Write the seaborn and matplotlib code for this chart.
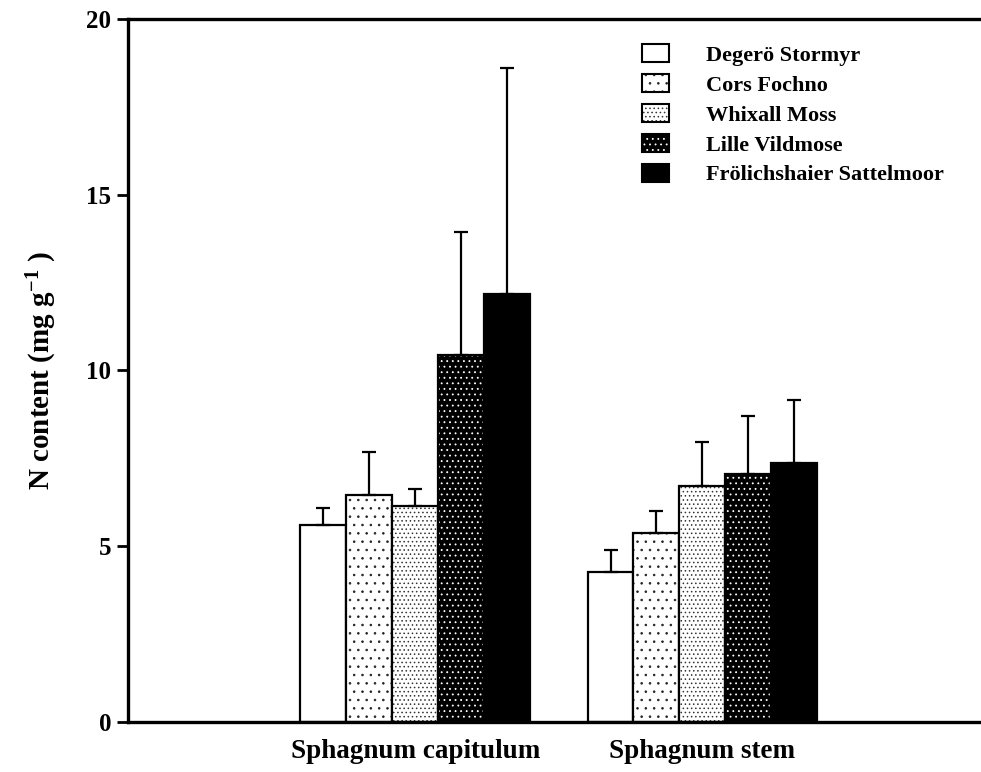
import matplotlib
matplotlib.use("Agg")
import matplotlib.pyplot as plt
import seaborn as sns
import pandas as pd
import numpy as np
from matplotlib.colors import to_rgba
from matplotlib.patches import Patch

parts = ["Sphagnum capitulum", "Sphagnum stem"]
sites = ["Degerö Stormyr", "Cors Fochno", "Whixall Moss", "Lille Vildmose", "Frölichshaier Sattelmoor"]
means_capitulum = [5.60, 6.45, 6.15, 10.45, 12.18]
errs_capitulum = [0.48, 1.23, 0.49, 3.49, 6.42]
means_stem = [4.27, 5.38, 6.71, 7.06, 7.37]
errs_stem = [0.62, 0.62, 1.26, 1.64, 1.80]
yticks = [0, 5, 10, 15, 20]

rows = []
for p, m, e in [(parts[0], means_capitulum, errs_capitulum), (parts[1], means_stem, errs_stem)]:
    for s, mv, ev in zip(sites, m, e):
        rows.append({"part": p, "site": s, "value": mv, "err": ev})
df = pd.DataFrame(rows)

sns.set_style("white")
plt.rcParams["font.family"] = ["Liberation Serif", "DejaVu Serif"]
plt.rcParams["font.weight"] = "bold"
plt.rcParams["text.color"] = "black"
plt.rcParams["axes.labelcolor"] = "black"
plt.rcParams["xtick.color"] = "black"
plt.rcParams["ytick.color"] = "black"
plt.rcParams["hatch.linewidth"] = 0.6
plt.rcParams["mathtext.fontset"] = "custom"
plt.rcParams["mathtext.rm"] = "Liberation Serif:bold"
plt.rcParams["mathtext.bf"] = "Liberation Serif:bold"
plt.rcParams["mathtext.it"] = "Liberation Serif:bold"

fig = plt.figure(figsize=(9.81, 7.72), dpi=100)
ax = fig.add_axes([0.1305, 0.0648, 0.8695, 0.9106])

faces = ["white", "white", "white", "black", "black"]
hatches = [None, "..", "....", "...", None]
hcolors = ["black", "#222222", "#333333", "white", "black"]

sns.barplot(data=df, x="part", y="value", hue="site", hue_order=sites, order=parts,
            palette=faces, edgecolor="black", linewidth=1.6, saturation=1, width=0.8,
            errorbar=None, legend=False, ax=ax)

bar_containers = list(ax.containers)
handles = []
for i, cont in enumerate(bar_containers):
    sub = df[df["site"] == sites[i]].set_index("part").loc[parts]
    xs = []
    for bar in cont:
        bar.set_facecolor(faces[i])
        bar.set_edgecolor("black")
        if hatches[i]:
            bar.set_hatch(hatches[i])
            bar._hatch_color = to_rgba(hcolors[i])
        xs.append(bar.get_x() + bar.get_width() / 2)
    ax.errorbar(xs, sub["value"].values, yerr=[np.zeros(len(xs)), sub["err"].values],
                fmt="none", ecolor="black", elinewidth=1.6, capsize=4.7, capthick=1.6, zorder=1)
    h = Patch(facecolor=faces[i], edgecolor="black", linewidth=1.5, hatch=hatches[i])
    if hatches[i]:
        h._hatch_color = to_rgba(hcolors[i])
    handles.append(h)

ax.set_xlim(-1.0, 1.97)
ax.set_ylim(0, 20)
ax.set_yticks(yticks)
ax.set_yticklabels([str(t) for t in yticks], fontsize=18, fontweight="bold", color="black")
ax.tick_params(axis="y", direction="out", length=8, width=2.0, left=True, pad=4, colors="black")
ax.tick_params(axis="x", length=0, labelsize=19.5, pad=12, colors="black")
for lab in ax.get_xticklabels():
    lab.set_fontweight("bold")
    lab.set_color("black")
ax.set_xlabel("")
ax.set_ylabel(r"N content (mg g$^{-1}$ )", fontsize=21, fontweight="bold", labelpad=20, color="black")

for side in ["left", "bottom", "top"]:
    ax.spines[side].set_visible(True)
    ax.spines[side].set_linewidth(2.4)
    ax.spines[side].set_color("black")
ax.spines["right"].set_visible(False)

leg = ax.legend(handles, sites, loc="upper left", bbox_to_anchor=(0.6026, 0.9644), frameon=False,
                prop={"family": "Liberation Serif", "weight": "bold", "size": 16},
                handlelength=1.2, handleheight=0.9, labelspacing=0.36, handletextpad=1.7,
                borderpad=0, borderaxespad=0, labelcolor="black")

fig.savefig("out.png", dpi=100)
